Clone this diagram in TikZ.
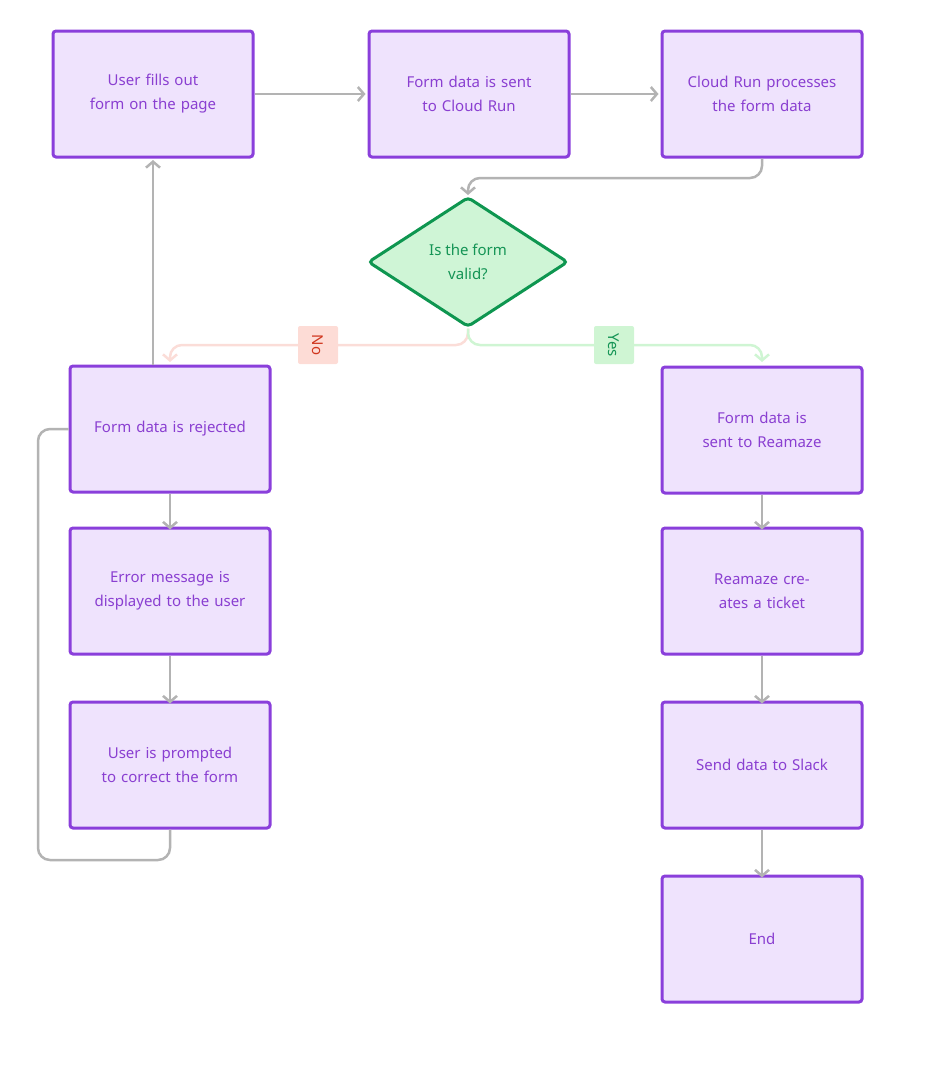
\documentclass[tikz,border=0pt]{standalone}
\usepackage{fontspec}
\setmainfont{Noto Sans}
\usetikzlibrary{arrows.meta,shapes.geometric}
\definecolor{pfill}{HTML}{EFE3FD}
\definecolor{pline}{HTML}{8A3FDB}
\definecolor{ptext}{HTML}{8A3FD1}
\definecolor{gfill}{HTML}{CFF5D6}
\definecolor{gline}{HTML}{0E9650}
\definecolor{gtext}{HTML}{149455}
\definecolor{conn}{HTML}{B3B3B3}
\definecolor{nofill}{HTML}{FDDCD6}
\definecolor{noline}{HTML}{FBDDD8}
\definecolor{notext}{HTML}{D0361E}
\definecolor{yesline}{HTML}{CFF5D3}
\tikzset{
  x=1pt,y=-1pt,
  box/.style={draw=pline,fill=pfill,line width=3pt,rounded corners=3pt,minimum width=200pt,minimum height=126pt,text width=170pt,align=center,text=ptext,font=\fontsize{15}{24}\selectfont,inner sep=0pt},
  dec/.style={draw=gline,fill=gfill,line width=3pt,diamond,rounded corners=4pt,minimum width=200pt,minimum height=130pt,aspect=1.54,inner sep=0pt,text=gtext,align=center,font=\fontsize{15}{24}\selectfont},
  cn/.style={draw=conn,line width=2.5pt,rounded corners=12pt,-{Straight Barb[length=6pt,width=14pt,line width=2.5pt]}},
  cnp/.style={draw=conn,line width=2.5pt,rounded corners=12pt},
  lbl/.style={rotate=-90,font=\fontsize{15}{18}\selectfont,minimum width=38pt,minimum height=40pt,inner sep=0pt,rounded corners=2pt},
}
\begin{document}
\begin{tikzpicture}
\useasboundingbox (0,0) rectangle (925,1066);
\node[box] (a) at (153,94) {User fills out form on the page};
\node[box] (b) at (469,94) {Form data is sent to Cloud Run};
\node[box] (c) at (762,94) {Cloud Run processes the form data};
\node[dec] (d) at (468,262) {Is the form\\valid?};
\node[box] (r) at (170,429) {Form data is rejected};
\node[box] (e) at (170,591) {Error message is displayed to the user};
\node[box] (f) at (170,765) {User is prompted to correct the form};
\node[box] (g) at (762,430) {Form data is sent to Reamaze};
\node[box] (h) at (762,591) {Reamaze creates a ticket};
\node[box] (i) at (762,765) {Send data to Slack};
\node[box] (j) at (762,939) {End};
\coordinate (top) at (468,195);
\coordinate (rin) at (170,362);
\coordinate (gin) at (762,362);
\coordinate (aout) at (153,160);
\draw[cn] (a.east) -- ([xshift=-2pt]b.west);
\draw[cn] (b.east) -- ([xshift=-2pt]c.west);
\draw[cn] (c.south) -- (762,178) -- (468,178) -- (top);
\draw[cn,draw=noline,-{Straight Barb[length=6pt,width=14pt,line width=2.5pt,color=noline]}] (d.south) -- (468,345) -- (170,345) -- (rin);
\draw[cn,draw=yesline,-{Straight Barb[length=6pt,width=14pt,line width=2.5pt,color=yesline]}] (d.south) -- (468,345) -- (762,345) -- (gin);
\node[lbl,fill=nofill,text=notext] (no) at (318,345) {No};
\node[lbl,fill=yesline,text=gtext] (yes) at (614,345) {Yes};
\draw[cn] (r.north -| aout) -- (aout);
\draw[cn] (r.south) -- ([yshift=-3pt]e.north);
\draw[cn] (e.south) -- ([yshift=-3pt]f.north);
\draw[cnp] (f.south) -- (170,860) -- (38,860) -- (38,429) -- (r.west);
\draw[cn] (g.south) -- ([yshift=-3pt]h.north);
\draw[cn] (h.south) -- ([yshift=-3pt]i.north);
\draw[cn] (i.south) -- ([yshift=-3pt]j.north);
\end{tikzpicture}
\end{document}
